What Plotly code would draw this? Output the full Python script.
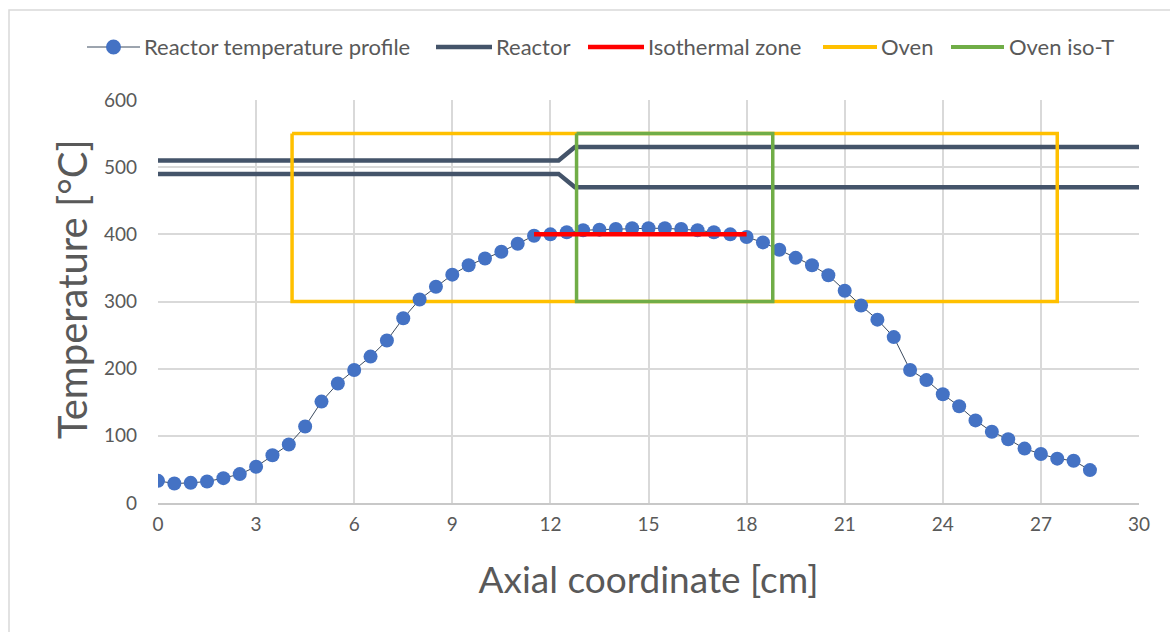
import plotly.graph_objects as go

# Axial temperature profile measured every 0.5 cm
axial_cm = [i * 0.5 for i in range(58)]
temperature_c = [
    33, 29, 30, 32, 37, 43, 54, 71, 87, 114,
    151, 178, 198, 218, 242, 275, 303, 322, 340, 354,
    364, 374, 386, 398, 400, 403, 406, 407, 408, 409,
    409, 409, 408, 406, 403, 400, 396, 388, 377, 365,
    354, 339, 316, 294, 273, 247, 198, 183, 162, 144,
    123, 106, 95, 81, 73, 66, 63, 49,
]

# Reactor wall outline (upper and lower lines, separated by a gap)
reactor_x = [0, 12.25, 12.75, 30, None, 0, 12.25, 12.75, 30]
reactor_y = [510, 510, 530, 530, None, 490, 490, 470, 470]

# Isothermal zone
iso_x = [11.5, 18]
iso_y = [400, 400]

# Oven box
oven_x = [4.1, 27.5, 27.5, 4.1, 4.1]
oven_y = [550, 550, 300, 300, 550]

# Oven isothermal section
oven_iso_x = [12.8, 18.8, 18.8, 12.8, 12.8]
oven_iso_y = [550, 550, 300, 300, 550]

x_ticks = [0, 3, 6, 9, 12, 15, 18, 21, 24, 27, 30]
y_ticks = [0, 100, 200, 300, 400, 500, 600]

FONT = "Lato, 'Open Sans', sans-serif"
TEXT = "#595959"
GRID = "#D9D9D9"

W, H = 1170, 632
ML, MR, MT, MB = 158, 31, 100, 129
PW, PH = W - ML - MR, H - MT - MB


def px_x(px):
    """Horizontal pixel position -> paper coordinate."""
    return (px - ML) / PW


def px_y(py):
    """Vertical pixel position -> paper coordinate."""
    return (H - MB - py) / PH


series = [
    dict(name="Reactor temperature profile", color="#3B4A5E", width=1,
         marker="#4472C4", x0=87, x1=140, tx=142),
    dict(name="Reactor", color="#44546A", width=4.5, marker=None,
         x0=436, x1=492, tx=494),
    dict(name="Isothermal zone", color="#FF0000", width=4.5, marker=None,
         x0=588, x1=644, tx=646),
    dict(name="Oven", color="#FFC000", width=4, marker=None,
         x0=823, x1=877, tx=879),
    dict(name="Oven iso-T", color="#70AD47", width=4, marker=None,
         x0=951, x1=1004, tx=1007),
]

fig = go.Figure()

fig.add_trace(go.Scatter(
    x=reactor_x, y=reactor_y, mode="lines", name="Reactor",
    line=dict(color="#44546A", width=4.5),
))
fig.add_trace(go.Scatter(
    x=oven_x, y=oven_y, mode="lines", name="Oven",
    line=dict(color="#FFC000", width=3.5),
))
fig.add_trace(go.Scatter(
    x=axial_cm, y=temperature_c, mode="lines+markers",
    name="Reactor temperature profile",
    line=dict(color="#3B4A5E", width=1),
    marker=dict(color="#4472C4", size=14),
))
fig.add_trace(go.Scatter(
    x=oven_iso_x, y=oven_iso_y, mode="lines", name="Oven iso-T",
    line=dict(color="#70AD47", width=3.5),
))
fig.add_trace(go.Scatter(
    x=iso_x, y=iso_y, mode="lines", name="Isothermal zone",
    line=dict(color="#FF0000", width=4.5),
))

# Legend row drawn with shapes and annotations
legend_y = px_y(47)
shapes = [dict(
    type="rect", xref="paper", yref="paper",
    x0=px_x(9), x1=px_x(1176), y0=px_y(640), y1=px_y(10),
    line=dict(color="#D9D9D9", width=1.5), fillcolor="rgba(0,0,0,0)",
    layer="below",
)]
annotations = []
for s in series:
    shapes.append(dict(
        type="line", xref="paper", yref="paper",
        x0=px_x(s["x0"]), x1=px_x(s["x1"]), y0=legend_y, y1=legend_y,
        line=dict(color=s["color"], width=s["width"]),
    ))
    if s["marker"]:
        shapes.append(dict(
            type="circle", xref="paper", yref="paper",
            xsizemode="pixel", ysizemode="pixel",
            xanchor=px_x((s["x0"] + s["x1"]) / 2), yanchor=legend_y,
            x0=-7.5, x1=7.5, y0=-7.5, y1=7.5,
            fillcolor=s["marker"], line=dict(width=0),
        ))
    annotations.append(dict(
        xref="paper", yref="paper", x=px_x(s["tx"]), y=legend_y,
        xanchor="left", yanchor="middle", showarrow=False,
        text=s["name"], font=dict(size=22, color=TEXT, family=FONT),
    ))

# Vertical axis title
annotations.append(dict(
    xref="paper", yref="paper", x=px_x(72), y=px_y(289),
    xanchor="center", yanchor="middle", showarrow=False, textangle=-90,
    text="Temperature [°C]", font=dict(size=40, color=TEXT, family=FONT),
))

fig.update_layout(
    width=W, height=H,
    margin=dict(l=ML, r=MR, t=MT, b=MB),
    paper_bgcolor="white", plot_bgcolor="white",
    font=dict(family=FONT, color=TEXT, size=19),
    showlegend=False,
    xaxis=dict(
        range=[0, 30], tickvals=x_ticks, ticktext=[str(v) for v in x_ticks],
        showgrid=True, gridcolor=GRID, gridwidth=1.5,
        showline=True, linecolor="#C8C8C8", linewidth=2,
        zeroline=False, ticks="", ticklabelstandoff=3,
        tickfont=dict(size=19, color=TEXT),
        title=dict(text="Axial coordinate [cm]",
                   font=dict(size=37, color=TEXT), standoff=33),
    ),
    yaxis=dict(
        range=[0, 600], tickvals=y_ticks, ticktext=[str(v) for v in y_ticks],
        showgrid=True, gridcolor=GRID, gridwidth=1.5,
        showline=False, zeroline=False, ticks="", ticklabelstandoff=20,
        tickfont=dict(size=19, color=TEXT),
    ),
    shapes=shapes,
    annotations=annotations,
)

fig.write_html("out.html")
